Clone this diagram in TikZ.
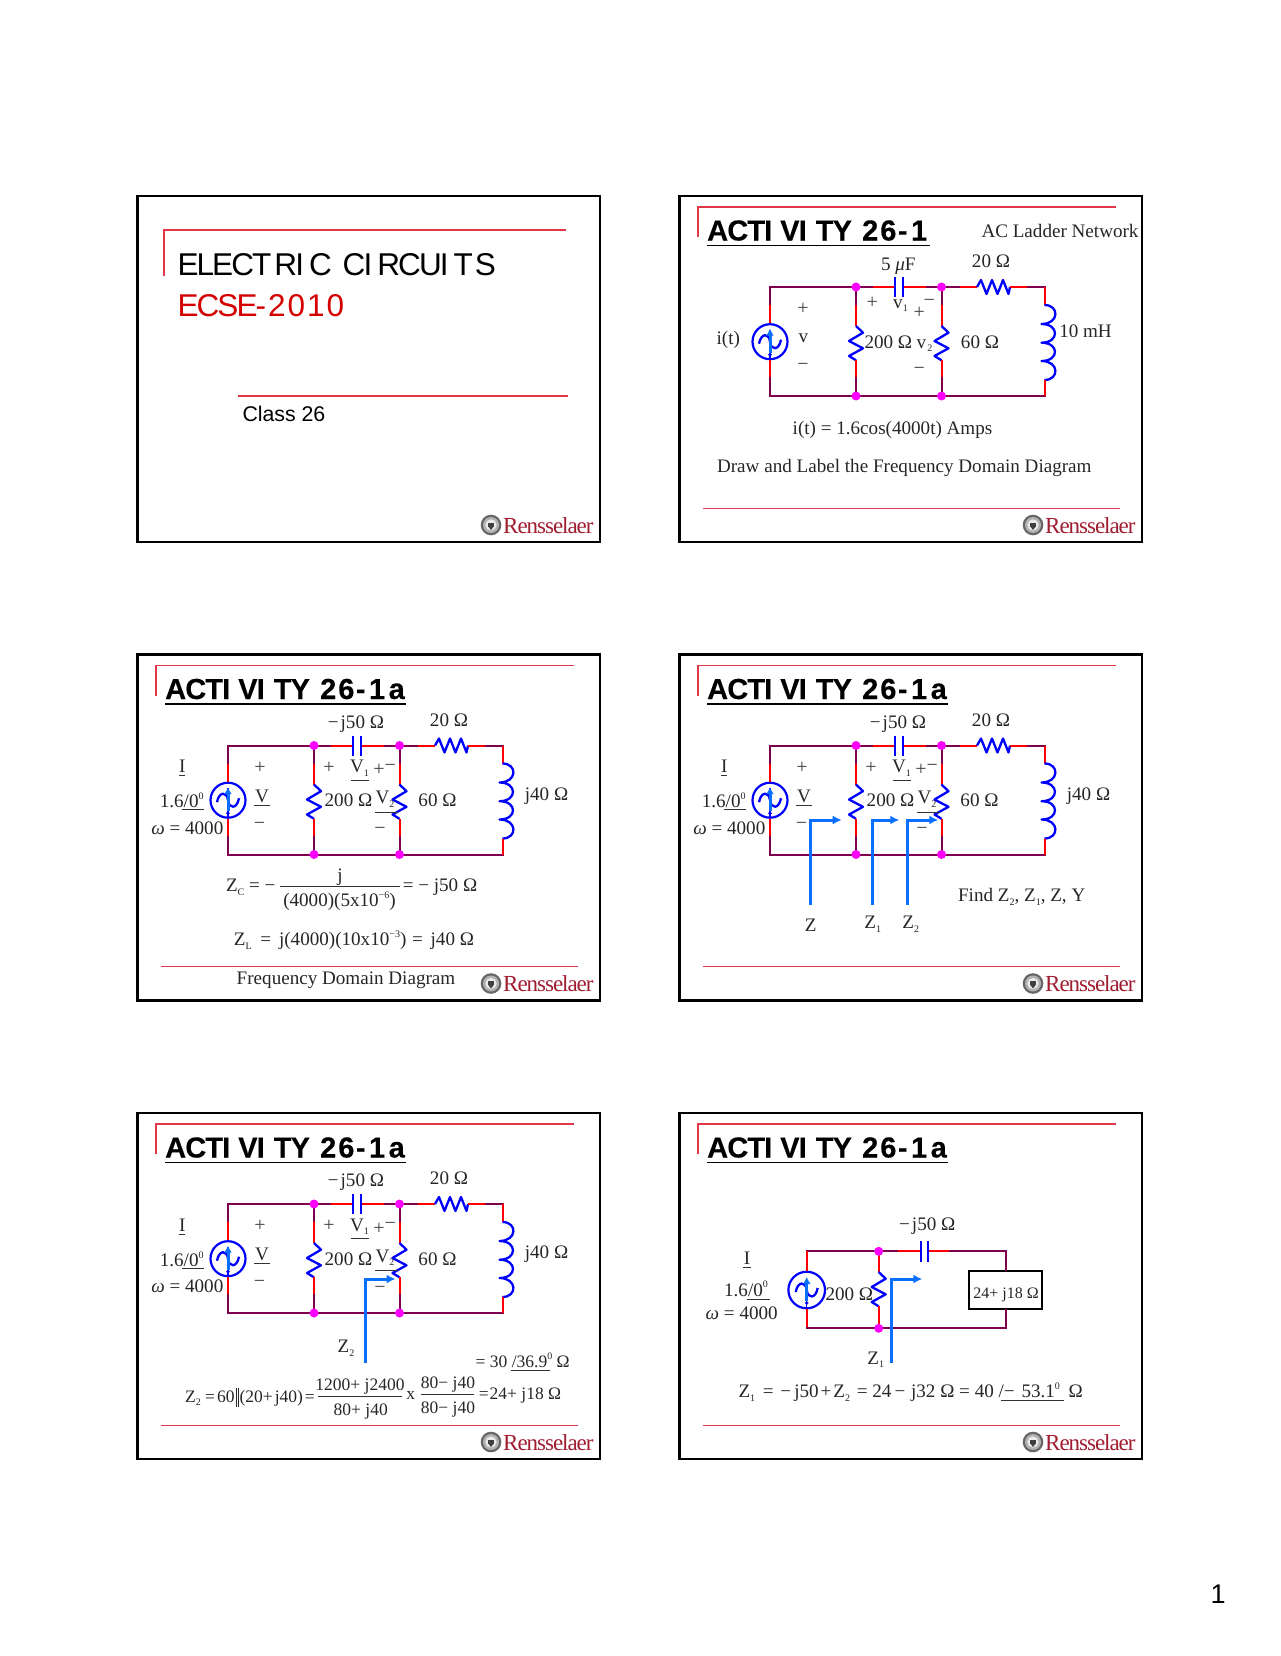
\documentclass[tikz,border=0pt]{standalone}
\usepackage{fontspec}
\usetikzlibrary{arrows.meta}
\setmainfont{Liberation Serif}
\newfontfamily\hv{Liberation Sans}
\newfontfamily\hvtight[LetterSpace=-6]{Liberation Sans}
\newfontfamily\hvb[LetterSpace=-3,FakeBold=0.25]{Liberation Sans Bold}
\newfontfamily\rensf[LetterSpace=-4.5]{Liberation Serif}
\definecolor{wirered}{HTML}{FF0000}
\definecolor{wirepur}{HTML}{800050}
\definecolor{hdr}{HTML}{E03848}
\definecolor{elblue}{HTML}{0000FF}
\definecolor{arblue}{HTML}{0A6EFF}
\definecolor{logored}{HTML}{A01C30}
\definecolor{ecse}{HTML}{D40000}
\definecolor{jdot}{HTML}{FF00FF}
\tikzset{
  lab/.style={anchor=base,inner sep=0pt,outer sep=0pt,text=black!85,font=\fontsize{19.1}{21}\selectfont},
  sgn/.style={anchor=center,inner sep=0pt,outer sep=0pt,text=black!75,font=\fontsize{20}{22}\selectfont},
  wp/.style={draw=wirepur,line width=2pt,line cap=rect},
  wr/.style={draw=wirered,line width=2pt},
  bw/.style={draw=elblue,line width=2.3pt,line join=round},
  jn/.style={circle,fill=jdot,inner sep=0pt,minimum size=9pt},
  srcn/.style={circle,draw=elblue,line width=2.2pt,inner sep=0pt},
  zarrow/.style={draw=arblue,line width=3pt,-{Latex[length=9pt,width=9pt]}},
  ulin/.style={draw=black!80,line width=1pt},
  frameb/.style={draw=black,line width=2.6pt},
  hdrl/.style={draw=hdr,line width=1.2pt},
  eqsm/.style={font=\fontsize{17.5}{20}\selectfont}
}
\newcount\lblc
\newcommand\lbl[4][]{\global\advance\lblc by 1 \node[lab,#1] (t\the\lblc) at (#2,#3) {#4};}
\newcommand\sg[3]{\global\advance\lblc by 1 \node[sgn] (t\the\lblc) at (#1,#2) {#3};}
\newcommand\ul[3]{\draw[ulin] (#1,#3) -- (#2,#3);}
\newcommand\sbb[1]{\raisebox{-0.2em}{\fontsize{10}{10}\selectfont #1}}
\newcommand\spp[1]{\raisebox{0.42em}{\fontsize{10}{10}\selectfont #1}}
\newcommand\dblbar{\rule[-5pt]{1pt}{19pt}\kern1pt\rule[-5pt]{1pt}{19pt}}
\newcommand\om{\textit{ω}}
\newcommand\frameL{\draw[frameb] (0,0) rectangle (462.5,346);}
\newcommand\hdrL{\draw[hdrl] (18.5,41) -- (18.5,11) -- (436.5,11);}
\newcommand\ftr{\draw[hdrl] (23,312.3) -- (440.5,312.3);}
\newcommand\logo{%
  \fill[black!60] (353.5,329) circle (10.3);
  \fill[black!30] (353.5,329) circle (8);
  \fill[black!8] (353.5,329) circle (5.6);
  \fill[black!75] (350.8,326.5) rectangle (356.2,330.5);
  \fill[black!75] (353.5,334) -- (350.8,330.5) -- (356.2,330.5) -- cycle;
  \global\advance\lblc by 1
  \node[anchor=base west,inner sep=0pt,text=logored,font=\rensf\fontsize{23}{24}\selectfont] (t\the\lblc) at (365.5,337) {Rensselaer};}
\newcommand\acttitle[2]{%
  \global\advance\lblc by 1
  \node[anchor=base west,inner sep=0pt,text=black,font=\hvb\fontsize{29}{31}\selectfont] (t\the\lblc) at (27.5,44.5)
    {ACTI\kern8pt VI\kern9pt TY\kern3pt\ 2\kern2pt 6\kern1.5pt -\kern3.5pt 1\kern3.5pt #1};
  \draw[black,line width=1.8pt] (27.5,49.5) -- (#2,49.5);}
\newcommand\srcsym{%
  \begin{scope}[shift={(src.center)}]
    \draw[bw] (-11,2) .. controls (-9,-9) and (-1,-9) .. (0,0) .. controls (1,9) and (9,9) .. (11,-2);
    \draw[elblue,line width=1.4pt] (0,17) -- (0,-12);
    \draw[elblue,fill=elblue] (0,13) circle (1.6);
    \draw[arblue,line width=3pt,-{Latex[length=7pt,width=8pt]}] (0,11) -- (0,-13);
  \end{scope}}
\newcommand\vres[2]{\draw[bw] (#1,#2) -- ++(7,6.7) -- ++(-14,8.3) -- ++(14,7.3) -- ++(-14,7.7) -- ++(7,4.3);}
\newcommand\capac[2]{\draw[bw] (#1,81) -- (#1,101); \draw[bw] (#2,81) -- (#2,101);}
\newcommand\fullcircuit{%
  \coordinate (tl) at (90.5,91); \coordinate (n1t) at (176.5,91);
  \coordinate (n2t) at (262,91); \coordinate (tr) at (365,91);
  \coordinate (bl) at (90.5,200); \coordinate (n1b) at (176.5,200);
  \coordinate (n2b) at (262,200); \coordinate (br) at (365,200);
  \node[srcn,minimum size=35pt] (src) at (90.5,145.7) {};
  \draw[wp] (tl) -- (90.5,109);
  \draw[wr] (90.5,109) -- (src.north);
  \draw[wr] (src.south) -- (90.5,182);
  \draw[wp] (90.5,182) -- (bl) -- (br);
  \draw[wp] (tl) -- (193.8,91);
  \draw[wr] (193.8,91) -- (215.8,91);
  \draw[wr] (223.5,91) -- (247,91);
  \draw[wp] (247,91) -- (280.5,91);
  \draw[wr] (280.5,91) -- (297.5,91);
  \draw[bw] (297.5,91) -- ++(4,-7) -- ++(5.5,14) -- ++(5.5,-14) -- ++(5.5,14) -- ++(5.5,-14) -- ++(5.5,14) -- ++(1.5,-7);
  \draw[wr] (330.5,91) -- (348.5,91);
  \draw[wp] (348.5,91) -- (tr);
  \capac{215.8}{223.5}
  \foreach \xx in {176.5,262} {
    \draw[wp] (\xx,91) -- (\xx,109);
    \draw[wr] (\xx,109) -- (\xx,130);
    \vres{\xx}{130}
    \draw[wr] (\xx,164.3) -- (\xx,182);
    \draw[wp] (\xx,182) -- (\xx,200);
  }
  \draw[wr] (tr) -- (365,109);
  \draw[bw] (365,109) .. controls (380,109) and (380,128) .. (362,128)
     .. controls (380,128) and (380,146.7) .. (362,146.7)
     .. controls (380,146.7) and (380,165) .. (362,165)
     .. controls (380,165) and (380,184) .. (365,184);
  \draw[wr] (365,184) -- (br);
  \srcsym
  \node[jn] (j1) at (n1t) {}; \node[jn] (j2) at (n2t) {};
  \node[jn] (j3) at (n1b) {}; \node[jn] (j4) at (n2b) {};}
\newcommand\phasorlabels{%
  \lbl{218.5}{73.8}{−\kern2pt j50 Ω}
  \lbl{311.5}{71.5}{20 Ω}
  \lbl{44.8}{118}{I} \ul{41.8}{47.8}{121.2}
  \lbl{44.2}{153.2}{1.6/0\spp{0}} \ul{44.2}{66.8}{155.2}
  \lbl{49.8}{179.5}{\om\ = 4000}
  \sg{122.5}{113}{+}
  \lbl{124.5}{147.5}{V} \ul{116.8}{132.2}{150.5}
  \sg{122}{171}{−}
  \sg{191.5}{113}{+}
  \lbl{222}{118}{V\sbb{1}} \ul{213.8}{231.8}{125.8}
  \sg{241.5}{115.5}{+} \sg{252.8}{113}{−}
  \lbl{211}{152}{200 Ω}
  \lbl{247.5}{149}{V\sbb{2}} \ul{237.5}{260.8}{157.5}
  \sg{242.5}{176.8}{−}
  \lbl{300}{152}{60 Ω}
  \lbl{409}{145.5}{j40 Ω}}
\begin{document}
\begin{tikzpicture}[x=1pt,y=-1pt]
\useasboundingbox (0,0) rectangle (1280,1656);
% ---- slide 1
\begin{scope}[shift={(137.5,196)}]
  \frameL
  \draw[hdrl] (26.5,80) -- (26.5,34) -- (428.5,34);
  \draw[hdrl] (100,200) -- (430,200);
  \lbl[anchor=base west,text=black,font=\hvtight\fontsize{31.5}{33}\selectfont]{40}{79}{ELECT\kern3pt RI\kern5pt C\kern4pt\ CI\kern5pt RCUI\kern5pt T\kern2pt S}
  \lbl[anchor=base west,text=ecse,font=\hvtight\fontsize{31.5}{33}\selectfont]{40}{120.7}{ECSE-\kern2pt 2\kern2pt 0\kern2pt 1\kern2pt 0}
  \lbl[anchor=base west,text=black,font=\hv\fontsize{21.3}{24}\selectfont]{105}{225.7}{Class 26}
  \logo
\end{scope}
% ---- slide 2
\begin{scope}[shift={(679.5,196)}]
  \frameL \hdrL \ftr
  \acttitle{}{250}
  \fullcircuit
  \lbl{380.5}{41}{AC Ladder Network}
  \lbl{218.8}{74.7}{5 \textit{μ}F}
  \lbl{311.5}{71}{20 Ω}
  \lbl{48.8}{148}{i(t)}
  \sg{123.5}{113}{+} \lbl{124}{146.7}{v} \sg{123.5}{171}{−}
  \sg{192.8}{107.3}{+} \lbl{221}{112}{v\sbb{1}} \sg{249.8}{106.7}{−} \sg{239.8}{117}{+}
  \lbl{208.8}{152}{200 Ω}
  \lbl{245}{152}{v\kern1pt\sbb{2}}
  \sg{239.8}{175}{−}
  \lbl{300.5}{152}{60 Ω}
  \lbl{406}{141}{10 mH}
  \lbl{213}{238}{i(t) = 1.6cos(4000t) Amps}
  \lbl{224.8}{276.7}{Draw and Label the Frequency Domain Diagram}
  \logo
\end{scope}
% ---- slide 3
\begin{scope}[shift={(137.5,654.5)}]
  \frameL \hdrL \ftr
  \acttitle{a}{268}
  \fullcircuit
  \phasorlabels
  \lbl[anchor=base west]{88.5}{237}{Z\sbb{C} = −}
  \lbl{202.5}{227}{j}
  \draw[ulin] (142.5,232) -- (262,232);
  \lbl{202}{252}{(4000)(5x10\spp{−6})}
  \lbl{302.5}{237}{= − j50 Ω}
  \lbl{216.5}{291}{Z\sbb{L}\kern4pt\ = \kern3pt j(4000)(10x10\spp{−3})\kern1pt\ = \kern3pt j40 Ω}
  \lbl{208.5}{329.5}{Frequency Domain Diagram}
  \logo
\end{scope}
% ---- slide 4
\begin{scope}[shift={(679.5,654.5)}]
  \frameL \hdrL \ftr
  \acttitle{a}{268}
  \fullcircuit
  \phasorlabels
  \coordinate (za) at (130.8,250.5); \coordinate (zb) at (162.2,165.5);
  \coordinate (zc) at (192.8,250.5); \coordinate (zd) at (219.8,165.5);
  \coordinate (ze) at (227.8,250.5); \coordinate (zf) at (258.8,165.5);
  \draw[zarrow] (za) |- (zb);
  \draw[zarrow] (zc) |- (zd);
  \draw[zarrow] (ze) |- (zf);
  \lbl{131.2}{276.5}{Z}
  \lbl{193.2}{274.2}{Z\sbb{1}}
  \lbl{231.2}{274.2}{Z\sbb{2}}
  \lbl{342.2}{247.2}{Find Z\sbb{2}, Z\sbb{1}, Z, Y}
  \logo
\end{scope}
% ---- slide 5
\begin{scope}[shift={(137.5,1113)}]
  \frameL \hdrL \ftr
  \acttitle{a}{268}
  \fullcircuit
  \phasorlabels
  \coordinate (za) at (227.5,250); \coordinate (zb) at (258,166);
  \draw[zarrow] (za) |- (zb);
  \lbl{208.5}{239.3}{Z\sbb{2}}
  \lbl[eqsm]{385.2}{254.3}{= 30 /36.9\spp{0} Ω} \ul{373.2}{412.5}{257.3}
  \lbl[eqsm]{112.5}{289}{Z\sbb{2} =\kern2pt 60\kern1pt\dblbar\kern1pt(20+\kern2pt j40)\kern2pt=}
  \lbl[eqsm]{222.5}{277.7}{1200+ j2400}
  \draw[ulin] (180.8,283.7) -- (264.8,283.7);
  \lbl[eqsm]{223.2}{302.7}{80+ j40}
  \lbl[eqsm]{273.2}{286.3}{x}
  \lbl[eqsm]{310.5}{275.3}{80− j40}
  \draw[ulin] (283.5,281.3) -- (336.8,281.3);
  \lbl[eqsm]{310.5}{300.3}{80− j40}
  \lbl[eqsm]{382.5}{286.3}{=\kern1pt 24+ j18 Ω}
  \logo
\end{scope}
% ---- slide 6
\begin{scope}[shift={(679.5,1113)}]
  \frameL \hdrL \ftr
  \acttitle{a}{268}
  \coordinate (tl) at (127.2,138.3); \coordinate (n1t) at (199.2,138.3);
  \coordinate (tr) at (326.2,138.3); \coordinate (bl) at (127.2,215.3);
  \coordinate (n1b) at (199.2,215.3); \coordinate (br) at (326.2,215.3);
  \node[srcn,minimum size=36.6pt] (src) at (127.2,177) {};
  \node[draw=black,line width=1.8pt,minimum width=72.7pt,minimum height=38.6pt,inner sep=0pt] (box) at (325.85,177) {};
  \draw[wp] (tl) -- (218.8,138.3);
  \draw[wr] (tl) -- (src.north);
  \draw[wr] (src.south) -- (bl);
  \draw[wp] (bl) -- (br);
  \draw[wr] (218.8,138.3) -- (241.2,138.3);
  \draw[wr] (248.8,138.3) -- (270.5,138.3);
  \draw[wp] (270.5,138.3) -- (tr);
  \draw[wp] (tr) -- (tr|-box.north);
  \draw[wp] (br|-box.south) -- (br);
  \draw[bw] (241.2,128) -- (241.2,148.7);
  \draw[bw] (248.8,128) -- (248.8,148.7);
  \draw[wr] (n1t) -- (199.2,159);
  \vres{199.2}{159}
  \draw[wr] (199.2,193.3) -- (n1b);
  \srcsym
  \node[jn] (j1) at (n1t) {}; \node[jn] (j3) at (n1b) {};
  \coordinate (za) at (212.2,250.3); \coordinate (zb) at (242.8,166);
  \draw[zarrow] (za) |- (zb);
  \lbl{247.8}{117.7}{−\kern2pt j50 Ω}
  \lbl{67.5}{151.3}{I} \ul{63.8}{71.2}{154.3}
  \lbl{66.5}{183}{1.6/0\spp{0}} \ul{67.8}{90.5}{186.3}
  \lbl{62.2}{206.3}{\om\ = 4000}
  \lbl{169.8}{187.7}{200 Ω}
  \lbl[font=\fontsize{16}{18}\selectfont]{326.5}{185.7}{24+ j18 Ω}
  \lbl{196.2}{251}{Z\sbb{1}}
  \lbl{231.2}{284.3}{Z\sbb{1}\kern3pt\ = \kern2pt−\kern3pt j50\kern2pt+\kern2pt Z\sbb{2}\kern2pt\ = 24\kern3pt−\kern1pt\ j32 Ω = 40 /−\kern2pt\ 53.1\spp{0}\kern4pt\ Ω} \ul{321.2}{384.5}{287}
  \logo
\end{scope}
\lbl[anchor=base,text=black,font=\hv\fontsize{27}{28}\selectfont]{1218}{1603.5}{1}
\end{tikzpicture}
\end{document}
